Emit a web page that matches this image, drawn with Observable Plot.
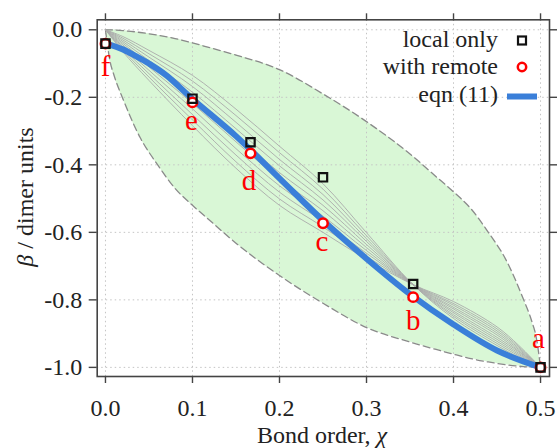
<!DOCTYPE html>
<html>
<head>
<meta charset="utf-8">
<script src="https://cdn.jsdelivr.net/npm/d3@7"></script>
<script src="https://cdn.jsdelivr.net/npm/@observablehq/plot@0.6"></script>
<style>
  html, body { margin: 0; padding: 0; background: white; }
  #chart { width: 557px; height: 448px; }
  #chart svg, #chart svg text, #chart svg tspan { font-family: "Liberation Serif", "DejaVu Serif", serif !important; }
</style>
</head>
<body>
<div id="chart"></div>
<script>
// ---- data ----
const xTicks = [0, 0.1, 0.2, 0.3, 0.4, 0.5];
const yTicks = [0, -0.2, -0.4, -0.6, -0.8, -1.0];

// data points (bond order chi)
const pointLabels = ["f", "e", "d", "c", "b", "a"];
const pointChi    = [0, 0.1, 0.1667, 0.25, 0.3536, 0.5];
const localOnly   = [-0.041, -0.204, -0.333, -0.437, -0.753, -1.0];
const withRemote  = [-0.041, -0.215, -0.366, -0.573, -0.792, -1.0];

// eqn (11)
const eqnChi  = [0, 0.02, 0.035, 0.05, 0.07, 0.1, 0.15, 0.2, 0.25, 0.3, 0.35, 0.4, 0.45, 0.5];
const eqnBeta = [-0.04, -0.058, -0.078, -0.1, -0.135, -0.205, -0.315, -0.44, -0.565, -0.678, -0.783, -0.873, -0.95, -1.0];

// bounds of the shaded lens
const lensChi   = [0, 0.005, 0.01, 0.02, 0.04, 0.06, 0.08, 0.1, 0.12, 0.15, 0.2, 0.25, 0.3, 0.35, 0.38, 0.4, 0.42, 0.44, 0.46, 0.48, 0.49, 0.495, 0.5];
const lensUpper = [0, -0.0002, -0.0008, -0.0025, -0.008, -0.016, -0.026, -0.039, -0.053, -0.075, -0.118, -0.19, -0.272, -0.368, -0.435, -0.48, -0.53, -0.60, -0.68, -0.796, -0.864, -0.91, -1.0];
const lensLower = [0, -0.09, -0.136, -0.204, -0.32, -0.40, -0.47, -0.52, -0.565, -0.632, -0.728, -0.81, -0.882, -0.925, -0.947, -0.961, -0.974, -0.984, -0.992, -0.9975, -0.9992, -0.9998, -1.0];

// family of thin grey curves
const familyChi = [0, 0.02, 0.05, 0.1, 0.15, 0.2, 0.25, 0.3, 0.3536, 0.4, 0.45, 0.475, 0.5];
const grey1  = [0, -0.020, -0.061, -0.135, -0.235, -0.345, -0.456, -0.601, -0.755, -0.855, -0.935, -0.970, -1];
const grey2  = [0, -0.025, -0.071, -0.152, -0.254, -0.364, -0.472, -0.610, -0.755, -0.849, -0.929, -0.966, -1];
const grey3  = [0, -0.030, -0.081, -0.168, -0.274, -0.384, -0.488, -0.619, -0.755, -0.844, -0.923, -0.962, -1];
const grey4  = [0, -0.035, -0.091, -0.185, -0.293, -0.403, -0.504, -0.627, -0.755, -0.838, -0.917, -0.958, -1];
const grey5  = [0, -0.040, -0.101, -0.201, -0.313, -0.423, -0.520, -0.636, -0.755, -0.833, -0.911, -0.954, -1];
const grey6  = [0, -0.045, -0.110, -0.218, -0.332, -0.442, -0.536, -0.645, -0.755, -0.827, -0.904, -0.951, -1];
const grey7  = [0, -0.050, -0.120, -0.234, -0.352, -0.462, -0.552, -0.654, -0.755, -0.822, -0.898, -0.947, -1];
const grey8  = [0, -0.055, -0.130, -0.251, -0.371, -0.481, -0.568, -0.662, -0.755, -0.816, -0.892, -0.943, -1];
const grey9  = [0, -0.060, -0.140, -0.267, -0.391, -0.501, -0.584, -0.671, -0.755, -0.811, -0.886, -0.939, -1];
const grey10 = [0, -0.065, -0.150, -0.284, -0.410, -0.520, -0.600, -0.680, -0.755, -0.805, -0.880, -0.935, -1];

// ---- build tables ----
const points = pointChi.map((c, i) => ({chi: c, local: localOnly[i], remote: withRemote[i], label: pointLabels[i]}));
const eqn = eqnChi.map((c, i) => ({chi: c, beta: eqnBeta[i]}));
const lens = lensChi.map((c, i) => ({chi: c, hi: lensUpper[i], lo: lensLower[i]}));
const greys = [grey1, grey2, grey3, grey4, grey5, grey6, grey7, grey8, grey9, grey10]
  .flatMap((arr, k) => arr.map((b, i) => ({chi: familyChi[i], beta: b, k})));

const fmt = d => d.toFixed(1);
const serif = "Liberation Serif, DejaVu Serif, serif";
const labelFont = 29;

const svg = Plot.plot({
  width: 557,
  height: 448,
  marginLeft: 96.7,
  marginRight: 8,
  marginTop: 19.3,
  marginBottom: 72,
  x: {domain: [-0.0095, 0.5103]},
  y: {domain: [-1.027, 0.0296]},
  style: {fontFamily: serif, fontSize: "24px", color: "#222", background: "white", overflow: "visible"},
  marks: [
    Plot.areaY(lens, {x: "chi", y1: "lo", y2: "hi", fill: "#d9f7d6", curve: "monotone-x"}),
    Plot.gridX(xTicks, {stroke: "#c4c4c4", strokeOpacity: 1, strokeDasharray: "1.5,3"}),
    Plot.gridY(yTicks, {stroke: "#c4c4c4", strokeOpacity: 1, strokeDasharray: "1.5,3"}),
    Plot.line(lens, {x: "chi", y: "hi", stroke: "#8a8a8a", strokeWidth: 1.3, strokeDasharray: "7,4", curve: "monotone-x"}),
    Plot.line(lens, {x: "chi", y: "lo", stroke: "#8a8a8a", strokeWidth: 1.3, strokeDasharray: "7,4", curve: "monotone-x"}),
    Plot.line(greys, {x: "chi", y: "beta", z: "k", stroke: "#aaaaaa", strokeWidth: 0.9, curve: "catmull-rom"}),
    Plot.line(eqn, {x: "chi", y: "beta", stroke: "#3a7fd9", strokeWidth: 6, curve: "catmull-rom"}),
    Plot.dot(points, {x: "chi", y: "remote", r: 4.7, stroke: "#ff0000", strokeWidth: 2.5, fill: "white"}),
    Plot.dot(points, {x: "chi", y: "local", symbol: "square", r: 4.7, stroke: "#111", strokeWidth: 2.2, fill: "none"}),
    Plot.text(points.filter(p => p.label === "f" || p.label === "b"), {x: "chi", y: "remote", text: "label", fill: "#ff0000", fontSize: labelFont, lineAnchor: "bottom", dy: 32.5}),
    Plot.text(points.filter(p => p.label === "e" || p.label === "c"), {x: "chi", y: "remote", text: "label", fill: "#ff0000", fontSize: labelFont, lineAnchor: "bottom", dy: 27.5, dx: -1}),
    Plot.text(points.filter(p => p.label === "d"), {x: "chi", y: "remote", text: "label", fill: "#ff0000", fontSize: labelFont, lineAnchor: "bottom", dy: 37, dx: -1.5}),
    Plot.text(points.filter(p => p.label === "a"), {x: "chi", y: "remote", text: "label", fill: "#ff0000", fontSize: labelFont, lineAnchor: "bottom", dy: -19, dx: -2}),
    Plot.axisX({anchor: "bottom", ticks: xTicks, tickSize: 7, tickPadding: 15, tickFormat: fmt, label: null, strokeWidth: 1.4, stroke: "#444"}),
    Plot.axisX({anchor: "top", ticks: xTicks, tickSize: 7, tickFormat: () => "", label: null, strokeWidth: 1.4, stroke: "#444"}),
    Plot.axisY({anchor: "left", ticks: yTicks, tickSize: 8, tickPadding: 7, tickFormat: fmt, label: null, strokeWidth: 1.4, stroke: "#444"}),
    Plot.axisY({anchor: "right", ticks: yTicks, tickSize: 7.5, tickFormat: () => "", label: null, strokeWidth: 1.4, stroke: "#444"}),
    Plot.frame({stroke: "#444", strokeWidth: 1.6})
  ]
});

const s = d3.select(svg);

// axis titles
const xt = s.append("text").attr("x", 322).attr("y", 443).attr("text-anchor", "middle")
  .attr("font-family", serif).attr("font-size", 24).attr("fill", "#222");
xt.append("tspan").text("Bond order, ");
xt.append("tspan").attr("font-style", "italic").text("χ");

const yt = s.append("text").attr("transform", "translate(33,197) rotate(-90)").attr("text-anchor", "middle")
  .attr("font-family", serif).attr("font-size", 24).attr("fill", "#222");
yt.append("tspan").attr("font-style", "italic").text("β");
yt.append("tspan").text(" / dimer units");

// legend
const lg = s.append("g").attr("font-family", serif).attr("font-size", 24).attr("fill", "#222");
lg.append("text").attr("x", 498).attr("y", 46.5).attr("text-anchor", "end").text("local only");
lg.append("text").attr("x", 498).attr("y", 74).attr("text-anchor", "end").text("with remote");
lg.append("text").attr("x", 498).attr("y", 101.5).attr("text-anchor", "end").text("eqn (11)");
lg.append("rect").attr("x", 518).attr("y", 36.5).attr("width", 8).attr("height", 8)
  .attr("fill", "none").attr("stroke", "#111").attr("stroke-width", 2.2);
lg.append("circle").attr("cx", 522).attr("cy", 67).attr("r", 4.2)
  .attr("fill", "white").attr("stroke", "#ff0000").attr("stroke-width", 2.5);
lg.append("line").attr("x1", 507).attr("x2", 537).attr("y1", 96.5).attr("y2", 96.5)
  .attr("stroke", "#3a7fd9").attr("stroke-width", 6);

document.getElementById("chart").appendChild(svg);
</script>
</body>
</html>
